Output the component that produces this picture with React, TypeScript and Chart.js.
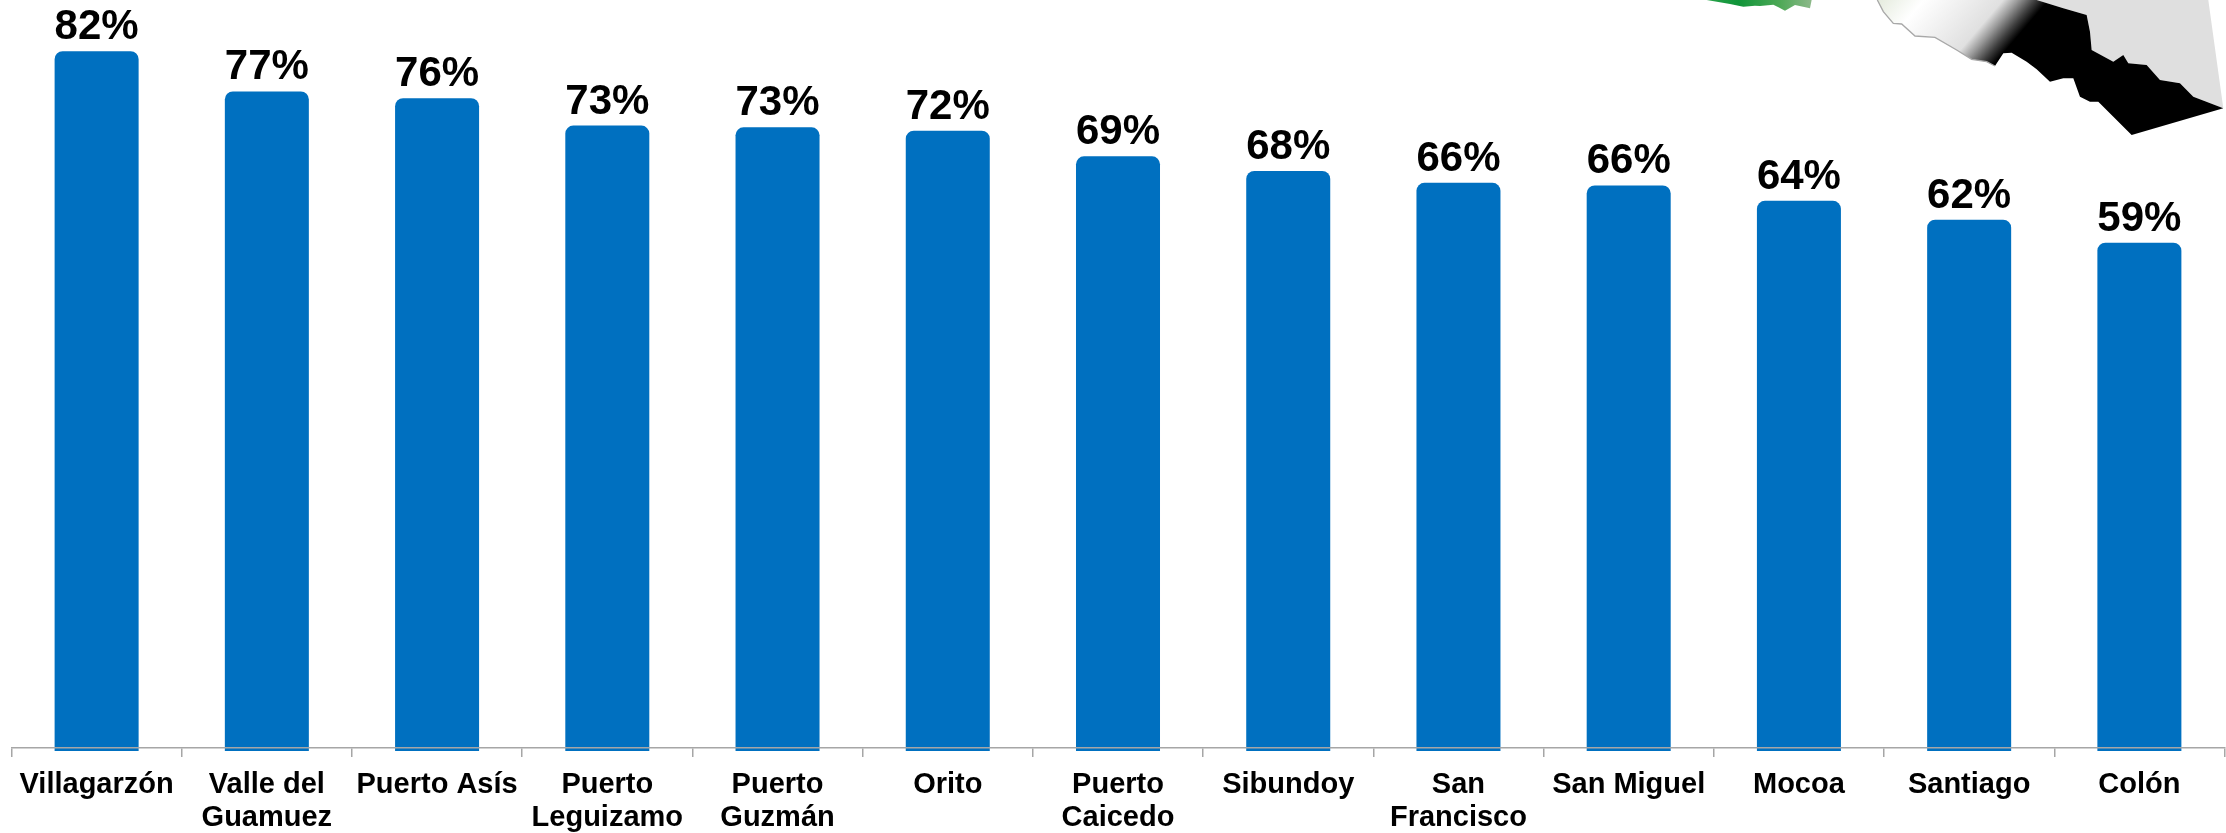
import React, { useEffect, useRef } from "react";
import { Chart, registerables } from "chart.js";

Chart.register(...registerables);

const municipios: (string | string[])[] = [
  "Villagarzón",
  ["Valle del", "Guamuez"],
  "Puerto Asís",
  ["Puerto", "Leguizamo"],
  ["Puerto", "Guzmán"],
  "Orito",
  ["Puerto", "Caicedo"],
  "Sibundoy",
  ["San", "Francisco"],
  "San Miguel",
  "Mocoa",
  "Santiago",
  "Colón",
];
const porcentajes = [81.5, 76.8, 76.0, 72.8, 72.6, 72.2, 69.2, 67.5, 66.1, 65.8, 64.0, 61.8, 59.1];

const FONT = '"Liberation Sans", Arial, sans-serif';

const labelPlugin = {
  id: "valueLabels",
  afterDatasetsDraw(chart: any) {
    const ctx = chart.ctx;
    const meta = chart.getDatasetMeta(0);
    ctx.save();
    ctx.font = `bold 42px ${FONT}`;
    ctx.fillStyle = "#000000";
    ctx.textAlign = "center";
    ctx.textBaseline = "alphabetic";
    meta.data.forEach((bar: any, i: number) => {
      ctx.fillText(`${Math.round(porcentajes[i])}%`, bar.x, bar.y - 12);
    });
    ctx.restore();
  },
};

const mapOutline = "52,0 70,35 100,70 125,72 165,108 225,112 290,150 335,178 380,185 405,198 430,160 455,158 500,185 530,208 570,245 610,235 640,235 660,290 690,305 715,305 815,405 1090,325 1000,290 960,250 900,240 860,195 805,190 790,165 760,185 695,150 690,95 680,45 610,25 530,0";
const mapEdge = "52,0 70,35 100,70 125,72 165,108 225,112 290,150 335,178 380,185 405,198";
const mapRest = "530,0 610,25 680,45 690,95 695,150 760,185 790,165 805,190 860,195 900,240 960,250 1000,290 1090,325 1045,0";
const greenPatch = "80,0 150,12 190,20 225,17 240,18 280,14 315,32 345,15 390,25 395,0";

export default function App() {
  const ref = useRef<HTMLCanvasElement>(null);
  useEffect(() => {
    if (!ref.current) return;
    const chart = new Chart(ref.current, {
      type: "bar",
      data: {
        labels: municipios as any,
        datasets: [
          {
            data: porcentajes,
            backgroundColor: "#0070C0",
            base: -0.35,
            clip: false as any,
            categoryPercentage: 1,
            barPercentage: 0.4935,
            borderRadius: { topLeft: 8, topRight: 8, bottomLeft: 0, bottomRight: 0 },
            borderSkipped: false,
          },
        ],
      },
      options: {
        responsive: false,
        animation: false,
        layout: { padding: { left: 11.5, right: 1.5, top: 0, bottom: 0 } },
        plugins: { legend: { display: false }, tooltip: { enabled: false } },
        scales: {
          y: { display: false, min: 0, max: 87.49 },
          x: {
            afterFit: (s: any) => {
              s.height = 85;
            },
            border: { color: "#a6a6a6", width: 1.5, z: 1 },
            grid: { color: "#a6a6a6", lineWidth: 1.5, drawOnChartArea: false, tickLength: 9, z: 1 },
            ticks: {
              autoSkip: false,
              maxRotation: 0,
              minRotation: 0,
              padding: 11,
              color: "#000000",
              font: { family: FONT, size: 29, weight: "bold", lineHeight: 33.5 / 29 },
            },
          },
        },
      },
      plugins: [labelPlugin],
    } as any);
    return () => chart.destroy();
  }, []);
  return (
    <div style={{ position: "absolute", left: 0, top: 0, width: 2226, height: 833, background: "#fff", overflow: "hidden" }}>
      <canvas ref={ref} width={2226} height={833} style={{ display: "block" }} />
      <svg width={2226} height={833} style={{ position: "absolute", left: 0, top: 0 }}>
        <defs>
          <linearGradient id="mapGrad" gradientUnits="userSpaceOnUse" x1="60" y1="0" x2="352" y2="250">
            <stop offset="0" stopColor="#e6ecdf" />
            <stop offset="0.26" stopColor="#ffffff" />
            <stop offset="0.73" stopColor="#e0e0e0" />
            <stop offset="0.82" stopColor="#999999" />
            <stop offset="0.92" stopColor="#404040" />
            <stop offset="1" stopColor="#000000" />
          </linearGradient>
          <linearGradient id="greenGrad" x1="0" y1="0" x2="1" y2="0">
            <stop offset="0" stopColor="#2aa34c" />
            <stop offset="0.3" stopColor="#0f9438" />
            <stop offset="0.7" stopColor="#4ea957" />
            <stop offset="1" stopColor="#8db98a" />
          </linearGradient>
        </defs>
        <g transform="translate(1860 0) scale(0.3333)">
          <polygon points={mapRest} fill="#dfdfdf" />
          <polygon points={mapOutline} fill="url(#mapGrad)" />
          <polyline points={mapEdge} fill="none" stroke="#a8a8a8" strokeWidth={4} />
        </g>
        <g transform="translate(1680 0) scale(0.3333)">
          <polygon points={greenPatch} fill="url(#greenGrad)" />
        </g>
      </svg>
    </div>
  );
}
